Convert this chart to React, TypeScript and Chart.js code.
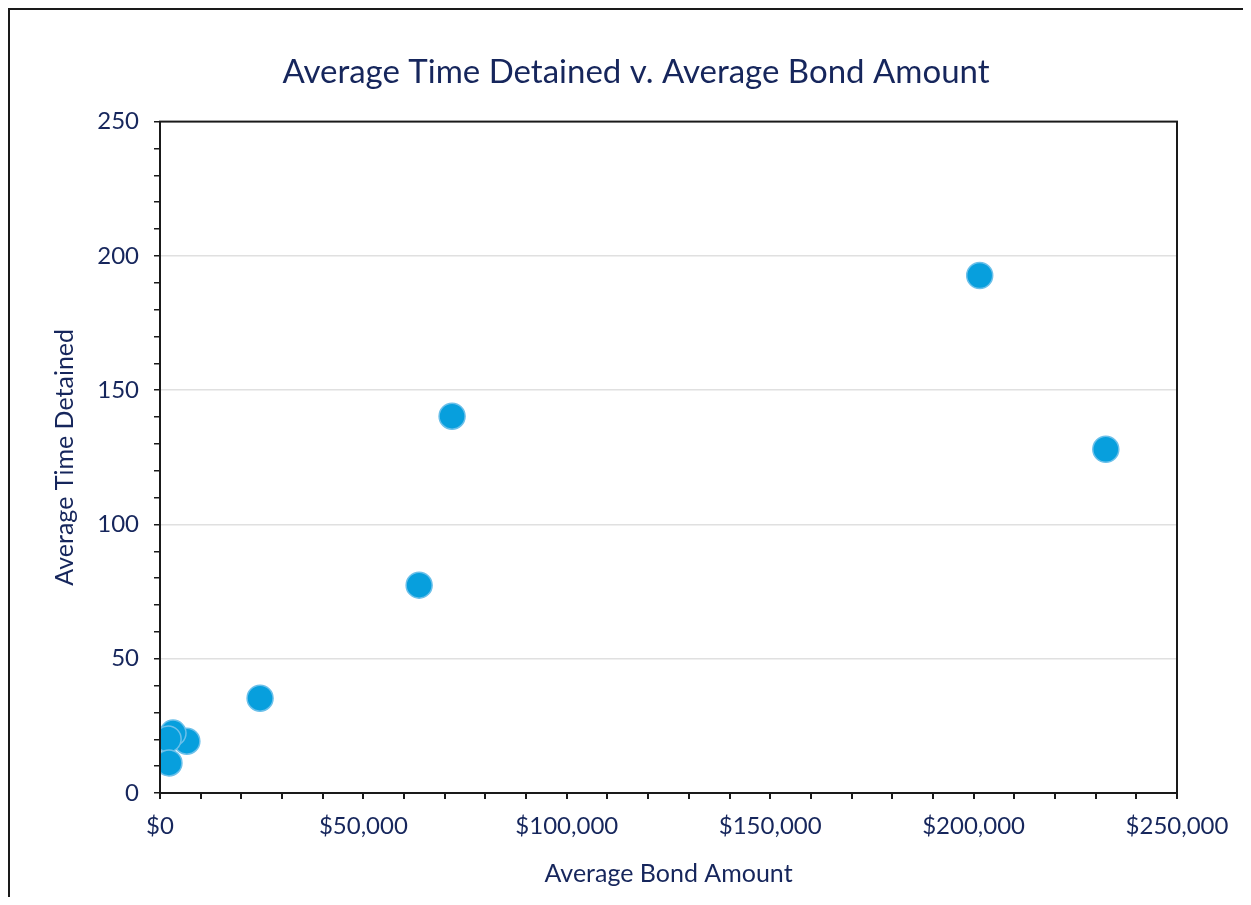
import React, { useEffect, useRef } from "react";
import { Chart, registerables } from "chart.js";

Chart.register(...registerables);

const bondAmounts = [201500, 232500, 71800, 63700, 24600, 6600, 3200, 2000, 2200];
const timeDetained = [192.7, 128, 140.3, 77.4, 35.3, 19.3, 22.3, 20.1, 11.2];

const titleText = "Average Time Detained v. Average Bond Amount";
const xAxisTitle = "Average Bond Amount";
const yAxisTitle = "Average Time Detained";

const NAVY = "#16265c";
const FONT = "Lato";

const framePlugin = {
  id: "frame",
  afterDraw(chart: any) {
    const { ctx, chartArea } = chart;
    ctx.save();
    ctx.strokeStyle = "#1a1a1a";
    ctx.lineWidth = 2;
    ctx.strokeRect(chartArea.left, chartArea.top, chartArea.right - chartArea.left, chartArea.bottom - chartArea.top);
    ctx.restore();
  },
};

export default function App() {
  const ref = useRef<HTMLCanvasElement | null>(null);
  useEffect(() => {
    if (!ref.current) return;
    const chart = new Chart(ref.current, {
      type: "scatter",
      data: {
        datasets: [
          {
            data: bondAmounts.map((x, i) => ({ x, y: timeDetained[i] })),
            backgroundColor: "#079fdd",
            borderColor: "#6cc0ea",
            borderWidth: 1.5,
            pointRadius: 13,
            pointHoverRadius: 13,
            xAxisID: "x",
            yAxisID: "y",
          },
        ],
      },
      options: {
        animation: false,
        responsive: false,
        layout: { padding: { left: 19, right: 0, top: 0, bottom: 0 } },
        plugins: {
          legend: { display: false },
          tooltip: { enabled: false },
          title: {
            display: true,
            text: titleText,
            color: NAVY,
            font: { family: FONT, size: 33, weight: "normal" },
            padding: { top: 43, bottom: 29 },
          },
        },
        scales: {
          x: {
            type: "linear",
            min: 0,
            max: 250000,
            border: { display: true, color: "#1a1a1a", width: 2 },
            grid: { drawOnChartArea: false, drawTicks: true, tickLength: 6, tickColor: "#1a1a1a", lineWidth: 2 },
            ticks: {
              stepSize: 10000,
              autoSkip: false,
              maxRotation: 0,
              color: NAVY,
              padding: 13,
              font: { family: FONT, size: 24 },
              callback: (v: any) => (v % 50000 === 0 ? "$" + Number(v).toLocaleString("en-US") : ""),
            },
            title: {
              display: true,
              text: xAxisTitle,
              color: NAVY,
              font: { family: FONT, size: 25 },
              padding: { top: 0, bottom: 8 },
            },
            afterFit: (s: any) => {
              s.height = 104;
            },
          },
          y: {
            type: "linear",
            position: "left",
            min: 0,
            max: 250,
            border: { display: true, color: "#1a1a1a", width: 2 },
            grid: {
              drawOnChartArea: true,
              drawTicks: true,
              tickLength: 6,
              tickColor: "#1a1a1a",
              lineWidth: 1.5,
              color: (c: any) => {
                const v = c.tick ? c.tick.value : 0;
                return v % 50 === 0 && v !== 0 && v !== 250 ? "#e0e0e0" : "rgba(0,0,0,0)";
              },
            },
            ticks: {
              stepSize: 10,
              autoSkip: false,
              color: NAVY,
              padding: 15,
              font: { family: FONT, size: 24 },
              callback: (v: any) => (v % 50 === 0 ? String(v) : ""),
            },
            title: {
              display: true,
              text: yAxisTitle,
              color: NAVY,
              font: { family: FONT, size: 25 },
              padding: { top: 21, bottom: 0 },
            },
            afterFit: (s: any) => {
              s.width = 131;
            },
          },
          yRight: {
            type: "linear",
            position: "right",
            min: 0,
            max: 250,
            border: { display: false },
            grid: { display: false, drawOnChartArea: false, drawTicks: false },
            ticks: { display: false },
            afterFit: (s: any) => {
              s.width = 66;
            },
          },
        },
      },
      plugins: [framePlugin],
    } as any);
    return () => chart.destroy();
  }, []);

  return (
    <div
      style={{
        borderLeft: "2px solid #1a1a1a",
        borderTop: "2px solid #1a1a1a",
        width: 1233,
        height: 887,
        overflow: "hidden",
      }}
    >
      <canvas ref={ref} width={1233} height={887} style={{ display: "block" }} />
    </div>
  );
}
